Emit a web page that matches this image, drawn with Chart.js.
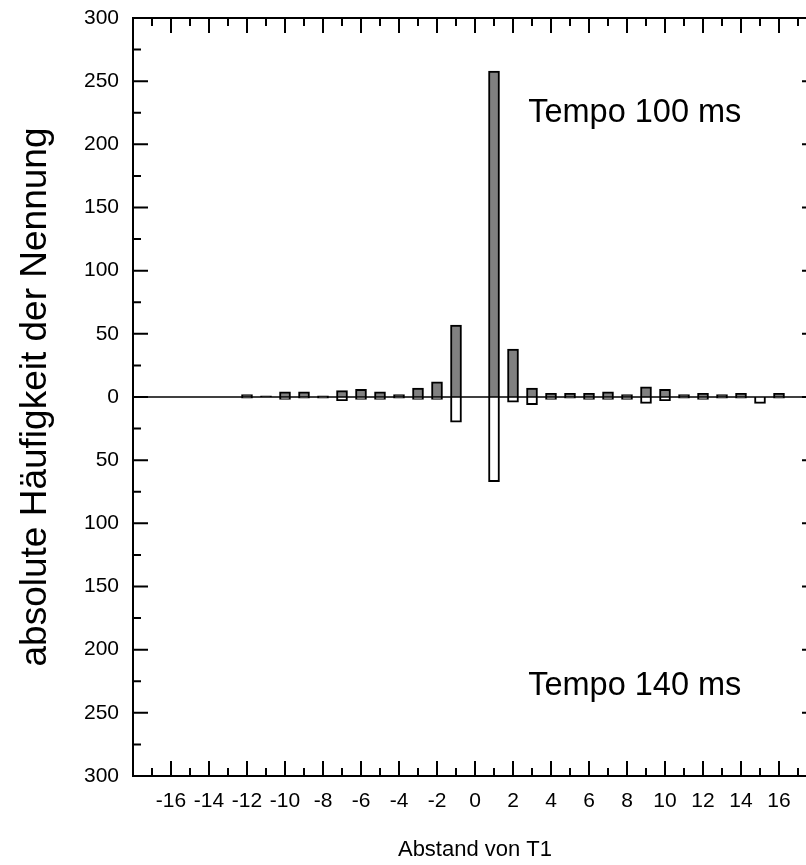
<!DOCTYPE html>
<html><head><meta charset="utf-8">
<script src="https://cdn.jsdelivr.net/npm/chart.js@4/dist/chart.umd.min.js"></script>
<style>html,body{margin:0;padding:0;background:#fff;overflow:hidden;} canvas{display:block;}</style>
</head><body>
<canvas id="c" width="830" height="865"></canvas>
<script>
// Abstand von T1 (positions)
const positions = [-12,-11,-10,-9,-8,-7,-6,-5,-4,-3,-2,-1,0,1,2,3,4,5,6,7,8,9,10,11,12,13,14,15,16];
// Tempo 100 ms (drawn upward)
const tempo100 = [2,1,4,4,1,5,6,4,2,7,12,57,0,258,38,7,3,3,3,4,2,8,6,2,3,2,3,0,3];
// Tempo 140 ms (drawn downward)
const tempo140 = [1,0,2,1,1,3,2,2,1,2,2,20,0,67,4,6,2,1,2,2,2,5,3,1,2,1,1,5,1];
const annotations = [
  {text:'Tempo 100 ms', x:2.8, y:225},
  {text:'Tempo 140 ms', x:2.8, y:-229}
];
const xTitle = 'Abstand von T1';
const yTitle = 'absolute Häufigkeit der Nennung';

const FONT = "'Liberation Sans', Arial, Helvetica, sans-serif";

const framePlugin = {
  id:'frame',
  afterDatasetsDraw(chart){
    const {ctx, chartArea:{left,right,top,bottom}, scales:{x,y}} = chart;
    ctx.save();
    ctx.strokeStyle = '#000';
    const y0 = y.getPixelForValue(0);
    ctx.lineWidth = 1.5;
    ctx.beginPath(); ctx.moveTo(left, y0); ctx.lineTo(right, y0); ctx.stroke();
    ctx.lineWidth = 2;
    ctx.strokeRect(left, top, right-left, bottom-top);
    ctx.beginPath();
    for (let v = -18; v <= 18; v++) {
      const px = x.getPixelForValue(v);
      const len = (v % 2 === 0) ? 15 : 8;
      ctx.moveTo(px, top); ctx.lineTo(px, top + len);
      ctx.moveTo(px, bottom); ctx.lineTo(px, bottom - len);
    }
    for (let v = -300; v <= 300; v += 25) {
      const py = y.getPixelForValue(v);
      const len = (v % 50 === 0) ? 15 : 8;
      ctx.moveTo(left, py); ctx.lineTo(left + len, py);
      ctx.moveTo(right, py); ctx.lineTo(right - len, py);
    }
    ctx.stroke();
    ctx.fillStyle = '#000';
    ctx.font = "32.5px " + FONT;
    ctx.textAlign = 'left';
    ctx.textBaseline = 'middle';
    annotations.forEach(a => ctx.fillText(a.text, x.getPixelForValue(a.x), y.getPixelForValue(a.y)));
    ctx.restore();
  }
};

new Chart(document.getElementById('c'), {
  type: 'bar',
  data: {
    datasets: [
      {label:'Tempo 100 ms', data: positions.map((p,i)=>({x:p, y:tempo100[i]})),
       backgroundColor:'#808080', borderColor:'#000', borderWidth:2, barThickness:11, grouped:false},
      {label:'Tempo 140 ms', data: positions.map((p,i)=>({x:p, y:-tempo140[i]})),
       backgroundColor:'#ffffff', borderColor:'#000', borderWidth:2, barThickness:11, grouped:false}
    ]
  },
  options: {
    responsive:false, animation:false, devicePixelRatio:1,
    layout:{padding:{left:0, right:13, top:18, bottom:0}},
    plugins:{legend:{display:false}, tooltip:{enabled:false}},
    scales:{
      x:{type:'linear', min:-18, max:18, offset:false,
         grid:{display:false, drawTicks:false}, border:{display:false},
         ticks:{stepSize:2, autoSkip:false, maxRotation:0, minRotation:0, padding:13, color:'#000',
                font:{family:FONT, size:21}, callback:v => Math.abs(v) > 16 ? '' : String(v)},
         title:{display:true, text:xTitle, color:'#000', font:{family:FONT, size:22}, padding:{top:0, bottom:2}},
         afterFit:s => { s.height = 89; s.paddingLeft = 0; s.paddingRight = 0; }},
      y:{min:-300, max:300,
         grid:{display:false, drawTicks:false}, border:{display:false},
         ticks:{stepSize:50, padding:14, color:'#000', font:{family:FONT, size:21},
                callback:v => String(Math.abs(v))},
         title:{display:true, text:yTitle, color:'#000', font:{family:FONT, size:37}, padding:{top:14, bottom:0}},
         afterFit:s => { s.width = 133; s.paddingTop = 0; s.paddingBottom = 0; }}
    }
  },
  plugins:[framePlugin]
});
</script>
</body></html>
